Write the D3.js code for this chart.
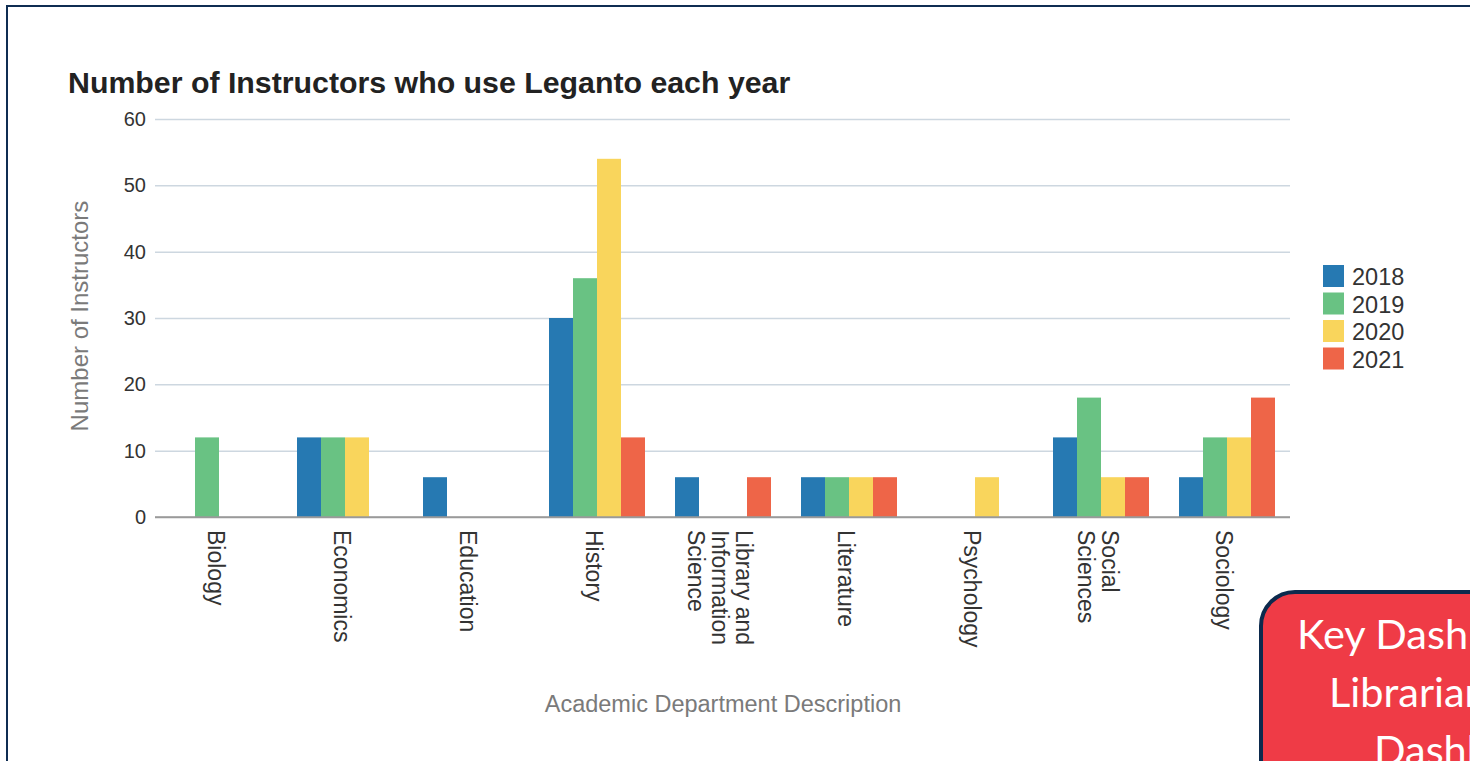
<!DOCTYPE html>
<html>
<head>
<meta charset="utf-8">
<script src="https://cdn.jsdelivr.net/npm/d3@7/dist/d3.min.js"></script>
<style>
  html, body { margin: 0; padding: 0; background: #fff; overflow: hidden; }
  svg { display: block; }
</style>
</head>
<body>
<svg id="chart" width="1470" height="761"></svg>
<script>
// ---- data ----
const categories = ["Biology", "Economics", "Education", "History", "Library and Information Science",
                    "Literature", "Psychology", "Social Sciences", "Sociology"];
const years = ["2018", "2019", "2020", "2021"];
const values2018 = [0, 12, 6, 30, 6, 6, 0, 12, 6];
const values2019 = [12, 12, 0, 36, 0, 6, 0, 18, 12];
const values2020 = [0, 12, 0, 54, 0, 6, 6, 6, 12];
const values2021 = [0, 0, 0, 12, 6, 6, 0, 6, 18];
const yTicks = [0, 10, 20, 30, 40, 50, 60];
const colors = ["#2679b2", "#69c283", "#f9d55c", "#ee6548"];

const seriesValues = [values2018, values2019, values2020, values2021];
const table = categories.map((c, i) => ({
  category: c,
  values: years.map((yr, j) => ({ year: yr, value: seriesValues[j][i] }))
}));

const svg = d3.select("#chart");
const font = "'Liberation Sans', Arial, sans-serif";

// outer frame
svg.append("rect").attr("x", 7).attr("y", 6).attr("width", 1500).attr("height", 820)
  .attr("fill", "none").attr("stroke", "#0f2d52").attr("stroke-width", 2);

const plotLeft = 155, plotRight = 1290, plotTop = 119, plotBottom = 517;
const x0 = d3.scaleBand().domain(categories).range([156, plotRight]).padding(0);
const x1 = d3.scaleBand().domain(years).range([15, 111]);
const y = d3.scaleLinear().domain([0, 60]).range([plotBottom, plotTop]);

// title
svg.append("text").attr("x", 68).attr("y", 93)
  .attr("font-family", font).attr("font-weight", "bold").attr("font-size", 30.3)
  .attr("fill", "#222").text("Number of Instructors who use Leganto each year");

// y axis with gridlines
const yAxis = d3.axisLeft(y).tickValues(yTicks).tickSize(-(plotRight - plotLeft)).tickPadding(9);
const gy = svg.append("g").attr("transform", `translate(${plotLeft},0)`).call(yAxis);
gy.select(".domain").remove();
gy.selectAll(".tick line").attr("stroke", d => d === 0 ? "#9a9a9a" : "#cdd7e0").attr("stroke-width", 1.5);
gy.selectAll(".tick text").attr("font-family", font).attr("font-size", 20).attr("fill", "#333");

// bars
const groups = svg.append("g").selectAll("g").data(table).join("g")
  .attr("transform", d => `translate(${x0(d.category)},0)`);
groups.selectAll("rect").data(d => d.values).join("rect")
  .attr("x", d => x1(d.year))
  .attr("width", x1.bandwidth())
  .attr("y", d => y(d.value))
  .attr("height", d => y(0) - y(d.value))
  .attr("fill", (d, i) => colors[i]);

// baseline redraw on top
svg.append("line").attr("x1", plotLeft).attr("x2", plotRight).attr("y1", y(0)).attr("y2", y(0))
  .attr("stroke", "#9a9a9a").attr("stroke-width", 1.5);

// category labels (rotated, wrapped)
const measure = svg.append("text").attr("font-family", font).attr("font-size", 23).attr("visibility", "hidden");
function wrap(label, maxW) {
  const words = label.split(" ");
  const lines = [];
  let cur = "";
  words.forEach(w => {
    const test = cur ? cur + " " + w : w;
    measure.text(test);
    if (measure.node().getComputedTextLength() > maxW && cur) { lines.push(cur); cur = w; }
    else cur = test;
  });
  if (cur) lines.push(cur);
  return lines;
}
const lineH = 24;
categories.forEach(c => {
  const lines = wrap(c, 125);
  const cx = x0(c) + x0.bandwidth() / 2;
  const t = svg.append("text")
    .attr("transform", `translate(${cx},530) rotate(90)`)
    .attr("font-family", font).attr("font-size", 23).attr("fill", "#333");
  lines.forEach((ln, i) => {
    t.append("tspan").attr("x", 0)
      .attr("y", (i - (lines.length - 1) / 2) * lineH)
      .attr("dy", "0.46em").text(ln);
  });
});
measure.remove();

// axis titles
svg.append("text").attr("transform", `translate(88,316) rotate(-90)`)
  .attr("text-anchor", "middle").attr("font-family", font).attr("font-size", 24)
  .attr("fill", "#7a7a7a").text("Number of Instructors");
svg.append("text").attr("x", 723).attr("y", 712)
  .attr("text-anchor", "middle").attr("font-family", font).attr("font-size", 23.5)
  .attr("fill", "#7a7a7a").text("Academic Department Description");

// legend
const lg = svg.append("g").selectAll("g").data(years).join("g")
  .attr("transform", (d, i) => `translate(1323,${265 + i * 27.5})`);
lg.append("rect").attr("width", 21).attr("height", 22).attr("fill", (d, i) => colors[i]);
lg.append("text").attr("x", 29).attr("y", 20).attr("font-family", font).attr("font-size", 23.5)
  .attr("fill", "#333").text(d => d);

// overlapping red box (partly outside the view, as in the reference)
svg.append("rect").attr("x", 1261).attr("y", 592).attr("width", 400).attr("height", 400)
  .attr("rx", 34).attr("fill", "#ef3b46").attr("stroke", "#0c2a4d").attr("stroke-width", 4);
const boxLines = [["Key Dashboards for", 1297, 649], ["Librarians", 1329, 707], ["Dashboards", 1374, 765]];
svg.append("g").selectAll("text").data(boxLines).join("text")
  .attr("x", d => d[1]).attr("y", d => d[2])
  .attr("font-family", "Lato, 'Open Sans', sans-serif").attr("font-size", 41.5).attr("fill", "#fff")
  .text(d => d[0]);
</script>
</body>
</html>
